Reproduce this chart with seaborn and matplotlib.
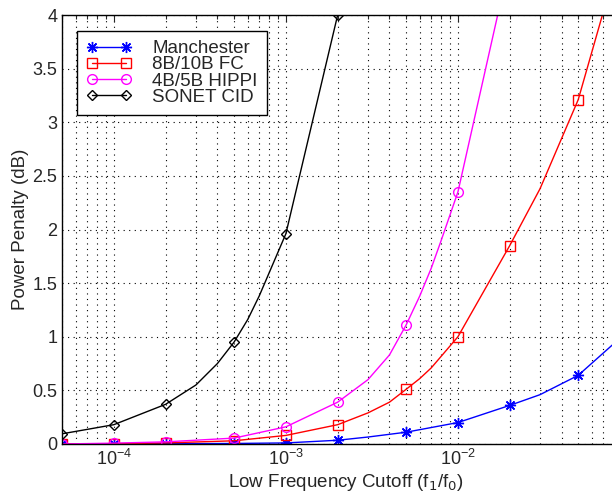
import numpy as np
import matplotlib
matplotlib.use("Agg")
import matplotlib.pyplot as plt
import seaborn as sns
import pandas as pd

marked_x = [5e-5, 1e-4, 2e-4, 5e-4, 1e-3, 2e-3, 5e-3, 1e-2, 2e-2, 5e-2]

manchester_x = [5e-5, 1e-4, 2e-4, 5e-4, 1e-3, 2e-3, 3e-3, 5e-3, 1e-2, 2e-2, 3e-2, 5e-2, 1e-1]
manchester_y = [0.0, 0.002, 0.003, 0.005, 0.01, 0.035, 0.065, 0.11, 0.20, 0.36, 0.46, 0.64, 1.07]

fc_x = [5e-5, 1e-4, 2e-4, 5e-4, 1e-3, 2e-3, 3e-3, 4e-3, 5e-3, 6e-3, 7e-3, 1e-2, 2e-2, 3e-2, 5e-2, 1e-1]
fc_y = [0.0, 0.003, 0.01, 0.03, 0.08, 0.18, 0.29, 0.39, 0.51, 0.61, 0.71, 1.0, 1.85, 2.38, 3.21, 4.9]

hippi_x = [5e-5, 1e-4, 2e-4, 5e-4, 1e-3, 2e-3, 3e-3, 4e-3, 5e-3, 6e-3, 7e-3, 8e-3, 1e-2, 2e-2]
hippi_y = [0.0, 0.008, 0.02, 0.055, 0.16, 0.39, 0.60, 0.83, 1.11, 1.38, 1.64, 1.90, 2.35, 4.5]

sonet_x = [5e-5, 1e-4, 2e-4, 3e-4, 4e-4, 5e-4, 6e-4, 7e-4, 1e-3, 2e-3]
sonet_y = [0.095, 0.18, 0.37, 0.55, 0.75, 0.95, 1.16, 1.38, 1.96, 4.0]

series = [
    ("Manchester", manchester_x, manchester_y, "blue", (8, 2, 0), 8),
    ("8B/10B FC", fc_x, fc_y, "red", "s", 7),
    ("4B/5B HIPPI", hippi_x, hippi_y, "magenta", "o", 7),
    ("SONET CID", sonet_x, sonet_y, "black", "D", 5),
]

sns.set_style("white")
plt.rcParams["font.family"] = ["Liberation Sans", "DejaVu Sans"]

fig = plt.figure(figsize=(6.12, 5.01), dpi=100)
ax = fig.add_axes([62 / 612, 57 / 501, 568 / 612, 429 / 501])

for name, xs, ys, col, mk, ms in series:
    df = pd.DataFrame({"x": xs, "y": ys})
    idx = [i for i, v in enumerate(xs) if v in marked_x]
    sns.lineplot(data=df, x="x", y="y", ax=ax, color=col, marker=mk,
                 markevery=idx, markersize=ms, markerfacecolor="none",
                 markeredgecolor=col, markeredgewidth=1.0,
                 linewidth=1.0, label=name)

ax.set_xscale("log")
ax.set_xlim(5e-5, 1e-1)
ax.set_ylim(0, 4)
ax.set_yticks(np.arange(0, 4.01, 0.5))
ax.set_yticklabels(["0", "0.5", "1", "1.5", "2", "2.5", "3", "3.5", "4"])
ax.set_xticks([1e-4, 1e-3, 1e-2])

ax.grid(True, which="major", color="black", linestyle=(0, (1, 4)), linewidth=0.8)
ax.grid(True, which="minor", axis="x", color="black", linestyle=(0, (1, 4)), linewidth=0.8)
ax.tick_params(which="both", direction="in", top=True, right=True,
               labelsize=13, length=5, width=0.8)
ax.tick_params(which="minor", length=3)
for s in ax.spines.values():
    s.set_color("black")
    s.set_linewidth(1.0)

ax.set_xlabel("Low Frequency Cutoff (f$_1$/f$_0$)", fontsize=13.5, labelpad=2)
ax.set_ylabel("Power Penalty (dB)", fontsize=13.5, labelpad=2)

leg = ax.legend(loc="upper left", bbox_to_anchor=(0.01, 0.985), fontsize=13.5,
                frameon=True, fancybox=False, edgecolor="black",
                handlelength=2.4, labelspacing=-0.05, borderpad=0.5,
                handletextpad=1.1, numpoints=2, framealpha=1)
leg.get_frame().set_linewidth(1.0)
for h in leg.legend_handles:
    h.set_markevery(None)

fig.savefig("out.png", dpi=100)
